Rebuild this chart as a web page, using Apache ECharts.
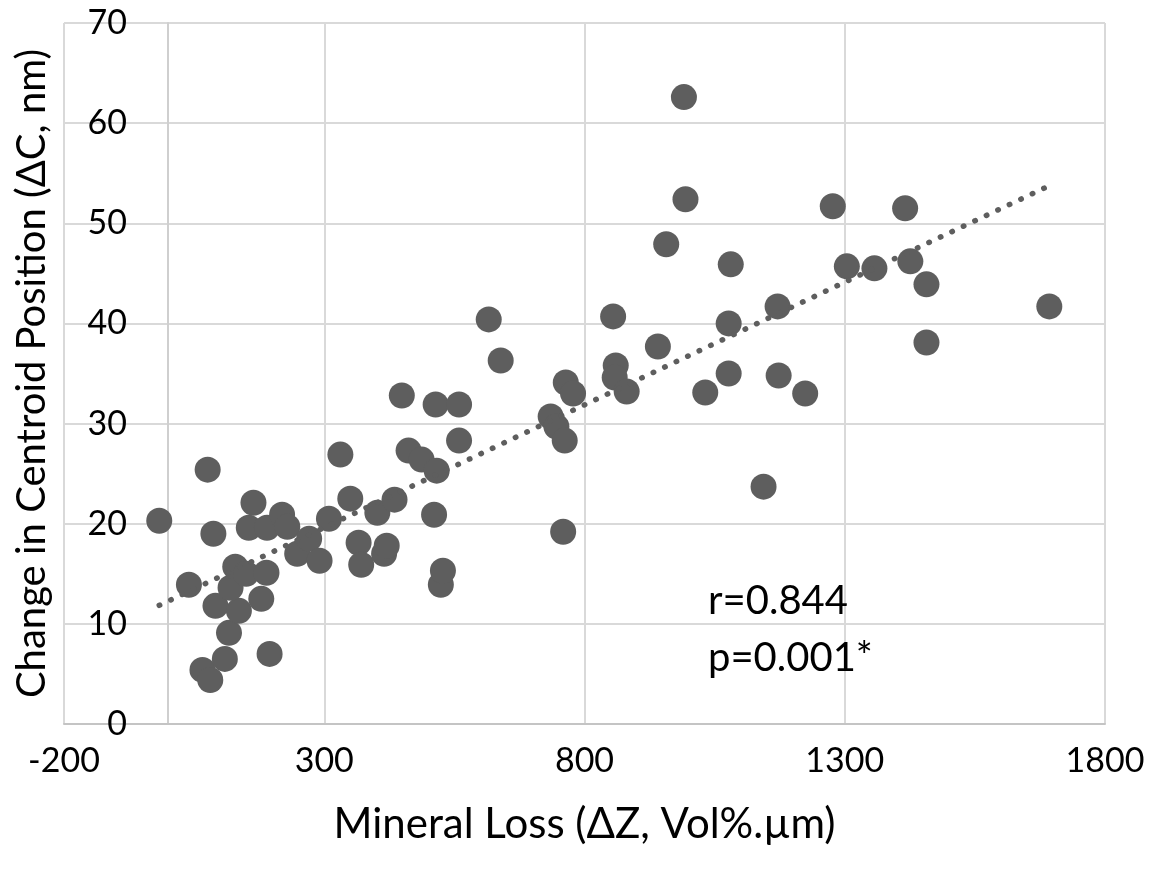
<!DOCTYPE html>
<html>
<head>
<meta charset="utf-8">
<style>
  html, body { margin: 0; padding: 0; background: #ffffff; }
  #chart { width: 1158px; height: 874px; }
</style>
<script src="https://cdn.jsdelivr.net/npm/echarts@6/dist/echarts.min.js"></script>
</head>
<body>
<div id="chart"></div>
<script>
// Mineral loss (ΔZ, Vol%.µm)
const mineralLoss = [
  -17, 40, 76, 87, 66, 81, 109, 117, 91, 136,
  120, 129, 150, 189, 179, 195, 155, 164, 190, 219,
  229, 248, 271, 291, 309, 331, 350, 366, 371, 402,
  415, 420, 435, 449, 462, 487, 511, 514, 516, 524,
  528, 559, 559, 616, 639, 735, 746, 762, 759, 764,
  778, 855, 860, 858, 881, 941, 957, 991, 994, 1032,
  1077, 1081, 1077, 1144, 1171, 1173, 1224, 1277, 1304, 1357,
  1416, 1426, 1457, 1457, 1693
];
// Change in centroid position (ΔC, nm)
const centroidChange = [
  20.3, 13.9, 25.4, 19.0, 5.4, 4.4, 6.5, 9.1, 11.8, 11.3,
  13.6, 15.7, 15.0, 15.1, 12.5, 7.0, 19.6, 22.1, 19.6, 20.9,
  19.7, 17.0, 18.5, 16.3, 20.5, 26.9, 22.5, 18.1, 15.9, 21.1,
  17.0, 17.8, 22.4, 32.8, 27.3, 26.4, 20.9, 31.9, 25.3, 13.9,
  15.3, 31.9, 28.3, 40.4, 36.3, 30.7, 29.7, 28.3, 19.2, 34.1,
  33.0, 40.7, 35.8, 34.6, 33.2, 37.7, 47.9, 62.6, 52.4, 33.1,
  40.0, 45.9, 35.0, 23.7, 41.7, 34.8, 33.0, 51.7, 45.7, 45.5,
  51.5, 46.2, 43.9, 38.1, 41.7
];
// Linear trendline end points
const trendX = [-17, 1693];
const trendY = [11.85, 53.75];

const xTicks = { min: -200, max: 1800, interval: 500 };
const yTicks = { min: 0, max: 70, interval: 10 };

const statsLines = ['r=0.844', 'p=0.001*'];

const points = mineralLoss.map((x, i) => [x, centroidChange[i]]);
const trend = trendX.map((x, i) => [x, trendY[i]]);

const FONT = 'Lato';
const chart = echarts.init(document.getElementById('chart'), null, { renderer: 'canvas' });

chart.setOption({
  animation: false,
  backgroundColor: '#ffffff',
  grid: { left: 64, right: 53, top: 23, bottom: 150, containLabel: false, outerBoundsMode: 'none' },
  xAxis: {
    type: 'value',
    min: xTicks.min, max: xTicks.max, interval: xTicks.interval,
    name: 'Mineral Loss (ΔZ, Vol%.µm)',
    nameLocation: 'middle',
    nameGap: 79,
    nameTextStyle: { fontFamily: FONT, fontSize: 42, color: '#000' },
    axisLine: { show: true, onZero: false, lineStyle: { color: '#c4c4c4', width: 2 } },
    axisTick: { show: false },
    axisLabel: { fontFamily: FONT, fontSize: 34, color: '#000', margin: 20, formatter: v => String(v) },
    splitLine: { show: true, lineStyle: { color: '#d9d9d9', width: 2 } }
  },
  yAxis: {
    type: 'value',
    min: yTicks.min, max: yTicks.max, interval: yTicks.interval,
    name: 'Change in Centroid Position (ΔC, nm)',
    nameLocation: 'middle',
    nameGap: 12,
    nameTextStyle: { fontFamily: FONT, fontSize: 40, color: '#000' },
    axisLine: { show: true, onZero: true, lineStyle: { color: '#cfcfcf', width: 2 } },
    axisTick: { show: false },
    axisLabel: { fontFamily: FONT, fontSize: 34, color: '#000', margin: -63, formatter: v => String(v) },
    splitLine: { show: true, lineStyle: { color: '#d9d9d9', width: 2 } }
  },
  graphic: statsLines.map((t, i) => ({
    type: 'text',
    left: 708,
    top: 581 + i * 57,
    z: 100,
    style: { text: t, fontFamily: FONT, fontSize: 40, fill: '#000' }
  })),
  series: [
    {
      type: 'scatter',
      data: points,
      symbol: 'circle',
      symbolSize: 26,
      itemStyle: { color: '#5e5e5e', opacity: 1 },
      z: 2
    },
    {
      type: 'line',
      data: trend,
      showSymbol: false,
      symbol: 'none',
      lineStyle: { color: '#5e5e5e', width: 5.5, type: [0.5, 12.2], cap: 'round' },
      z: 3
    }
  ]
});
</script>
</body>
</html>
